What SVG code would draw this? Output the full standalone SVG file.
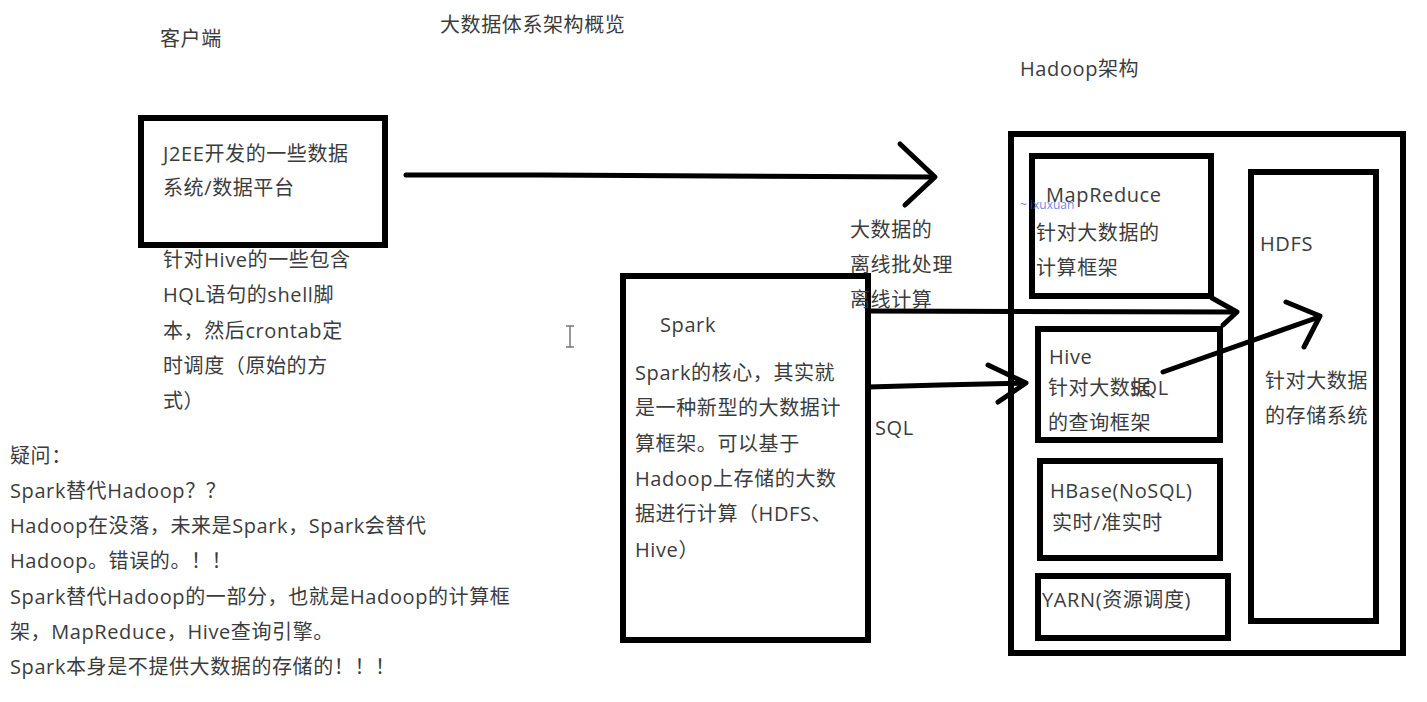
<svg xmlns="http://www.w3.org/2000/svg" width="1427" height="702" viewBox="0 0 1427 702">
<style>
  text { font-family: "Open Sans", "Noto Sans CJK SC", sans-serif; font-size: 20px; letter-spacing: 0.6px; fill: #3c3c3c; }
  .box { fill: none; stroke: #000; stroke-width: 6; }
  .ln { fill: none; stroke: #000; stroke-width: 5; stroke-linecap: round; stroke-linejoin: round; }
  .wm { font-size: 12px; letter-spacing: 0; fill: #3f5fd8; opacity: 0.75; }
</style>
<rect width="1427" height="702" fill="#fff"/>

<g id="titles">
  <text x="160" y="46">客户端</text>
  <text x="440" y="32">大数据体系架构概览</text>
  <text x="1020" y="76">Hadoop架构</text>
</g>

<g id="node-j2ee">
  <rect class="box" x="141" y="118" width="244" height="127"/>
  <text x="163" y="161">J2EE开发的一些数据</text>
  <text x="163" y="195">系统/数据平台</text>
</g>

<g id="note-hive-shell">
  <text x="163" y="267">针对Hive的一些包含</text>
  <text x="163" y="302">HQL语句的shell脚</text>
  <text x="163" y="338">本，然后crontab定</text>
  <text x="163" y="373">时调度（原始的方</text>
  <text x="163" y="408">式）</text>
</g>

<g id="note-question">
  <text x="10" y="463">疑问：</text>
  <text x="10" y="498">Spark替代Hadoop？？</text>
  <text x="10" y="533">Hadoop在没落，未来是Spark，Spark会替代</text>
  <text x="10" y="568">Hadoop。错误的。！！</text>
  <text x="10" y="604">Spark替代Hadoop的一部分，也就是Hadoop的计算框</text>
  <text x="10" y="639">架，MapReduce，Hive查询引擎。</text>
  <text x="10" y="674">Spark本身是不提供大数据的存储的！！！</text>
</g>

<g id="node-spark">
  <rect class="box" x="623" y="276" width="245" height="364"/>
  <text x="660" y="332">Spark</text>
  <text x="635" y="380">Spark的核心，其实就</text>
  <text x="635" y="415">是一种新型的大数据计</text>
  <text x="635" y="451">算框架。可以基于</text>
  <text x="635" y="486">Hadoop上存储的大数</text>
  <text x="635" y="521">据进行计算（HDFS、</text>
  <text x="635" y="557">Hive）</text>
</g>

<g id="labels">
  <text x="850" y="237">大数据的</text>
  <text x="850" y="272">离线批处理</text>
  <text x="850" y="307">离线计算</text>
  <text x="875" y="435">SQL</text>
</g>

<g id="node-hadoop">
  <rect class="box" x="1011" y="134" width="392" height="519"/>
</g>

<g id="node-mapreduce">
  <rect class="box" x="1032" y="156" width="179" height="140"/>
  <text x="1046" y="202">MapReduce</text>
  <text class="wm" x="1020" y="209">~ ixuxuan</text>
  <text x="1036" y="240">针对大数据的</text>
  <text x="1036" y="275">计算框架</text>
</g>

<g id="node-hive">
  <rect class="box" x="1038" y="329" width="182" height="111"/>
  <text x="1049" y="364">Hive</text>
  <text x="1048" y="395">针对大数据<tspan dx="-21">SQL</tspan></text>
  <text x="1048" y="430">的查询框架</text>
</g>

<g id="node-hbase">
  <rect class="box" x="1040" y="461" width="180" height="97"/>
  <text x="1050" y="498">HBase(NoSQL)</text>
  <text x="1052" y="530">实时/准实时</text>
</g>

<g id="node-yarn">
  <rect class="box" x="1038" y="576" width="190" height="62"/>
  <text x="1042" y="607">YARN(资源调度)</text>
</g>

<g id="node-hdfs">
  <rect class="box" x="1251" y="172" width="125" height="449"/>
  <text x="1260" y="251">HDFS</text>
  <text x="1265" y="388">针对大数据</text>
  <text x="1265" y="423">的存储系统</text>
</g>

<g id="cursor">
  <path d="M570 326 V347 M566 326 H574 M566 347 H574" fill="none" stroke="#777" stroke-width="1.5"/>
</g>

<g id="connectors">
  <path class="ln" d="M406 175 L540 175 L934 177"/>
  <path class="ln" d="M900 144 L935 177 L905 205"/>
  <path class="ln" d="M868 311 L1236 312"/>
  <path class="ln" d="M1212 298 L1237 312 L1223 325"/>
  <path class="ln" d="M868 387 L940 385 L1025 383"/>
  <path class="ln" d="M988 365 L1026 383 L998 402"/>
  <path class="ln" d="M1163 372 L1319 317"/>
  <path class="ln" d="M1286 302 L1320 316 L1304 347"/>
</g>
</svg>
